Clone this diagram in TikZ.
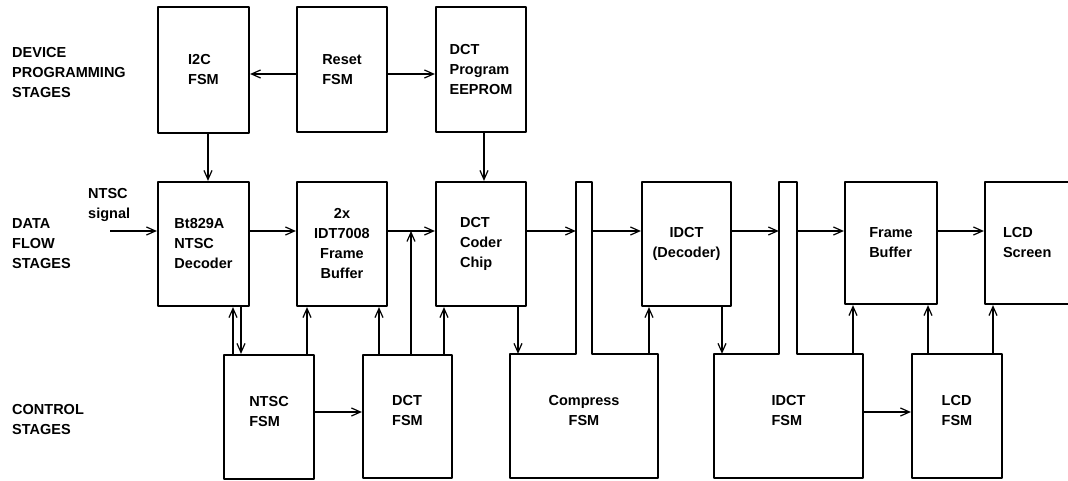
\documentclass[tikz,border=0pt]{standalone}
\usepackage{fontspec}
\setmainfont{Liberation Sans}
\usetikzlibrary{arrows.meta,calc}
\tikzset{
  txt/.style={font=\bfseries\fontsize{14.5}{20}\selectfont},
  blk/.style={txt, draw, line width=2.2pt, inner sep=0pt, align=left, line join=round},
  ghost/.style={txt, draw=none, inner sep=0pt, align=left},
  lowrow/.style={text depth=12pt},
  outl/.style={draw, line width=2.2pt, line join=round},
  arr/.style={line width=1.2pt, -{Straight Barb[length=9pt,width=8pt,line width=1.2pt]}},
  lbl/.style={txt, anchor=west, align=left, inner sep=0pt},
}
\begin{document}
\begin{tikzpicture}[x=1pt,y=-1pt]
\useasboundingbox (0,0) rectangle (1068,481);
% top row
\node[blk, minimum width=91pt, minimum height=126pt] (i2c) at (203.5,70) {I2C\\FSM};
\node[blk, minimum width=90pt, minimum height=125pt] (reset) at (342,69.5) {Reset\\FSM};
\node[blk, minimum width=90pt, minimum height=125pt] (eeprom) at (481,69.5) {DCT\\Program\\EEPROM};
% middle row
\node[blk, minimum width=91pt, minimum height=124pt] (bt) at (203.5,244) {Bt829A\\NTSC\\Decoder};
\node[blk, align=center, minimum width=90pt, minimum height=124pt] (idt) at (342,244) {2x\\IDT7008\\Frame\\Buffer};
\node[blk, minimum width=90pt, minimum height=124pt] (dctc) at (481,244) {DCT\\Coder\\Chip};
\node[blk, align=center, minimum width=89pt, minimum height=124pt] (idct) at (686.5,244) {IDCT\\(Decoder)};
\node[blk, minimum width=92pt, minimum height=122pt] (fb) at (891,243) {Frame\\Buffer};
\node[blk, minimum width=100pt, minimum height=122pt, text width=64pt] (lcd) at (1035,243) {LCD\\Screen};
% bottom row
\node[blk, lowrow, minimum width=90pt, minimum height=124pt] (ntscfsm) at (269,417) {NTSC\\FSM};
\node[blk, lowrow, minimum width=89pt, minimum height=123pt] (dctfsm) at (407.5,416.5) {DCT\\FSM};
\node[ghost, lowrow, align=center, minimum width=148pt, minimum height=124pt] (comp) at (584,416) {Compress\\FSM};
\node[ghost, lowrow, minimum width=149pt, minimum height=124pt] (idctfsm) at (788.5,416) {IDCT\\FSM};
\node[blk, lowrow, minimum width=90pt, minimum height=124pt] (lcdfsm) at (957,416) {LCD\\FSM};
% bars
\node[ghost, minimum width=16pt, minimum height=172pt] (bar1) at (584,268) {};
\node[ghost, minimum width=18pt, minimum height=172pt] (bar2) at (788,268) {};
\draw[outl] (bar1.north west) -- (bar1.north east) -- (bar1.east |- comp.north) -- (comp.north east)
  -- (comp.south east) -- (comp.south west) -- (comp.north west) -- (bar1.west |- comp.north) -- cycle;
\draw[outl] (bar2.north west) -- (bar2.north east) -- (bar2.east |- idctfsm.north) -- (idctfsm.north east)
  -- (idctfsm.south east) -- (idctfsm.south west) -- (idctfsm.north west) -- (bar2.west |- idctfsm.north) -- cycle;
% side labels
\node[lbl] (l1) at (12,72.5) {DEVICE\\PROGRAMMING\\STAGES};
\node[lbl] (l2) at (12,244) {DATA\\FLOW\\STAGES};
\node[lbl] (l3) at (12,420) {CONTROL\\STAGES};
\node[lbl] (sigl) at (88,205) {NTSC\\signal};
% row coordinates
\coordinate (rtop) at (0,74);
\coordinate (rmid) at (0,231);
\coordinate (rbot) at (0,412);
\coordinate (sig) at (110,231);
\coordinate (j) at (411,231);
% column coordinates
\coordinate (c208) at (208,0);
\coordinate (c484) at (484,0);
\coordinate (c233) at (233,0);
\coordinate (c241) at (241,0);
\coordinate (c307) at (307,0);
\coordinate (c379) at (379,0);
\coordinate (c444) at (444,0);
\coordinate (c518) at (518,0);
\coordinate (c649) at (649,0);
\coordinate (c722) at (722,0);
\coordinate (c853) at (853,0);
\coordinate (c928) at (928,0);
\coordinate (c993) at (993,0);
% horizontal connectors
\draw[arr] (reset.west |- rtop) -- (i2c.east |- rtop);
\draw[arr] (reset.east |- rtop) -- (eeprom.west |- rtop);
\draw[arr] (sig) -- (bt.west |- sig);
\draw[arr] (bt.east |- rmid) -- (idt.west |- rmid);
\draw[arr] (idt.east |- rmid) -- (dctc.west |- rmid);
\draw[arr] (dctc.east |- rmid) -- (bar1.west |- rmid);
\draw[arr] (bar1.east |- rmid) -- (idct.west |- rmid);
\draw[arr] (idct.east |- rmid) -- (bar2.west |- rmid);
\draw[arr] (bar2.east |- rmid) -- (fb.west |- rmid);
\draw[arr] (fb.east |- rmid) -- (lcd.west |- rmid);
\draw[arr] (ntscfsm.east |- rbot) -- (dctfsm.west |- rbot);
\draw[arr] (idctfsm.east |- rbot) -- (lcdfsm.west |- rbot);
% vertical connectors
\draw[arr] (i2c.south -| c208) -- (bt.north -| c208);
\draw[arr] (eeprom.south -| c484) -- (dctc.north -| c484);
\draw[arr] (ntscfsm.north -| c233) -- (bt.south -| c233);
\draw[arr] (bt.south -| c241) -- (ntscfsm.north -| c241);
\draw[arr] (ntscfsm.north -| c307) -- (idt.south -| c307);
\draw[arr] (dctfsm.north -| c379) -- (idt.south -| c379);
\draw[arr] (dctfsm.north -| j) -- (j);
\draw[arr] (dctfsm.north -| c444) -- (dctc.south -| c444);
\draw[arr] (dctc.south -| c518) -- (comp.north -| c518);
\draw[arr] (comp.north -| c649) -- (idct.south -| c649);
\draw[arr] (idct.south -| c722) -- (idctfsm.north -| c722);
\draw[arr] (idctfsm.north -| c853) -- (fb.south -| c853);
\draw[arr] (lcdfsm.north -| c928) -- (fb.south -| c928);
\draw[arr] (lcdfsm.north -| c993) -- (lcd.south -| c993);
\end{tikzpicture}
\end{document}
